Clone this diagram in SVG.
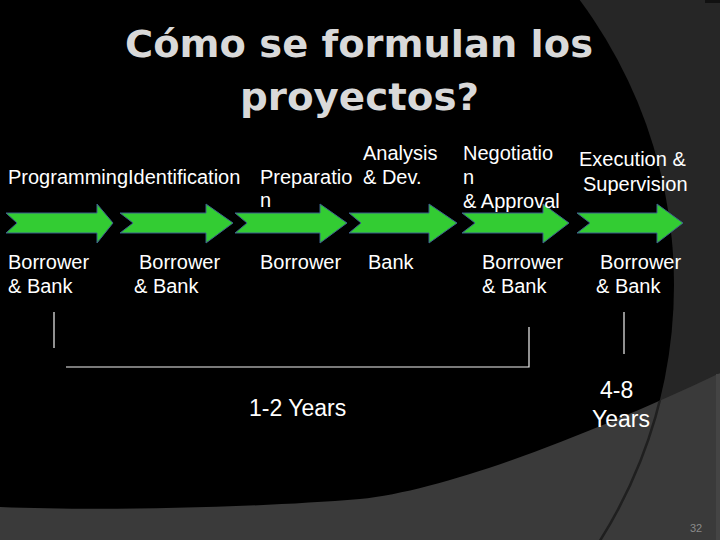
<svg xmlns="http://www.w3.org/2000/svg" width="720" height="540" viewBox="0 0 720 540">
<defs>
<style>
.t{font-family:"Liberation Sans",Arial,sans-serif;font-size:20px;fill:#ffffff}
.title{font-family:"DejaVu Sans","Liberation Sans",Arial,sans-serif;font-weight:bold;font-size:38px;fill:#d9d9d9}
.yr{font-family:"Liberation Sans",Arial,sans-serif;font-size:23px;fill:#ffffff}
.arrow{fill:#33cc33;stroke:#3b5e8c;stroke-width:1}
.ln{stroke:#f2f2f2;stroke-width:1.2;fill:none}
</style>
<clipPath id="lowClip"><path d="M0,507 C100,511 250,508 360,499 C450,490 600,430 720,373 L720,540 L0,540 Z"/></clipPath>
</defs>
<g id="background">
<rect x="0" y="0" width="720" height="540" fill="#262626"/>
<circle cx="196" cy="285" r="478" fill="#000000"/>
<rect x="705" y="0" width="15" height="3" fill="#111111"/>
<path d="M0,507 C100,511 250,508 360,499 C450,490 600,430 720,373 L720,540 L0,540 Z" fill="#3a3a3a"/>
<rect x="716" y="374" width="4" height="166" fill="#444444"/>
<circle cx="196" cy="285" r="478" fill="none" stroke="#1f1f1f" stroke-width="2.5" clip-path="url(#lowClip)"/>
</g>
<g id="title">
<text class="title" x="125" y="57" textLength="468" lengthAdjust="spacingAndGlyphs">Cómo se formulan los</text>
<text class="title" x="240" y="110" textLength="239" lengthAdjust="spacingAndGlyphs">proyectos?</text>
</g>
<g id="arrows">
<polygon id="arrow1" class="arrow" points="6,213 97,213 97,204 113,223 97,243 97,233 6,233 17,223"/>
<polygon id="arrow2" class="arrow" points="120,213 206,213 206,204 233,223 206,243 206,233 120,233 133,223"/>
<polygon id="arrow3" class="arrow" points="235,213 320,213 320,204 347,223 320,243 320,233 235,233 247,223"/>
<polygon id="arrow4" class="arrow" points="349,213 429,213 429,204 457,223 429,243 429,233 349,233 361,223"/>
<polygon id="arrow5" class="arrow" points="462,213 543,213 543,204 569,223 543,243 543,233 462,233 475,223"/>
<polygon id="arrow6" class="arrow" points="577,213 657,213 657,204 683,223 657,243 657,233 577,233 590,223"/>
</g>
<g id="stage-labels">
<text class="t" x="8" y="184">ProgrammingIdentification</text>
<text class="t" x="260" y="184">Preparatio</text>
<text class="t" x="260" y="207">n</text>
<text class="t" x="363" y="160">Analysis</text>
<text class="t" x="363" y="184">&amp; Dev.</text>
<text class="t" x="463" y="160">Negotiatio</text>
<text class="t" x="463" y="184">n</text>
<text class="t" x="463" y="208">&amp; Approval</text>
<text class="t" x="579" y="166">Execution &amp;</text>
<text class="t" x="583" y="191">Supervision</text>
</g>
<g id="actor-labels">
<text class="t" x="8" y="269">Borrower</text>
<text class="t" x="8" y="293">&amp; Bank</text>
<text class="t" x="139" y="269">Borrower</text>
<text class="t" x="134" y="293">&amp; Bank</text>
<text class="t" x="260" y="269">Borrower</text>
<text class="t" x="368" y="269">Bank</text>
<text class="t" x="482" y="269">Borrower</text>
<text class="t" x="482" y="293">&amp; Bank</text>
<text class="t" x="600" y="269">Borrower</text>
<text class="t" x="596" y="293">&amp; Bank</text>
</g>
<g id="connectors">
<line class="ln" x1="54" y1="312" x2="54" y2="348"/>
<polyline class="ln" points="66,367 529,367 529,327"/>
<line class="ln" x1="624" y1="312" x2="624" y2="354"/>
</g>
<g id="durations">
<text class="yr" x="249" y="416">1-2 Years</text>
<text class="yr" x="600" y="398">4-8</text>
<text class="yr" x="592" y="427">Years</text>
</g>
<text x="690" y="532" font-family="Liberation Sans, Arial, sans-serif" font-size="11" fill="#8a8a8a">32</text>
</svg>
